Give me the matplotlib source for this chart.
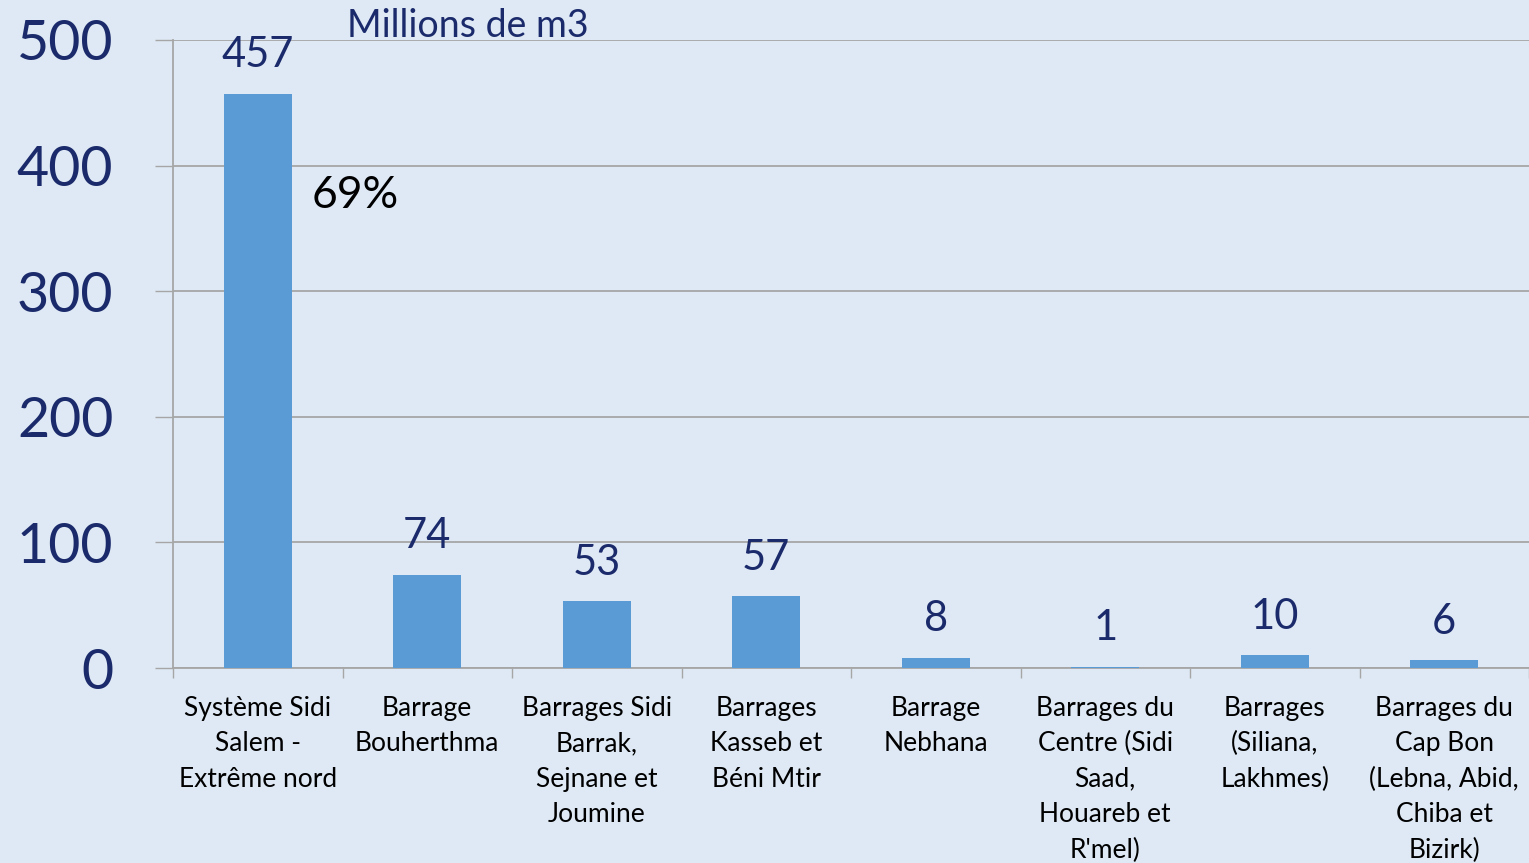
import numpy as np
import matplotlib.pyplot as plt
from matplotlib.ticker import FixedLocator

# data
categories = [
    "Système Sidi\nSalem -\nExtrême nord",
    "Barrage\nBouherthma",
    "Barrages Sidi\nBarrak,\nSejnane et\nJoumine",
    "Barrages\nKasseb et\nBéni Mtir",
    "Barrage\nNebhana",
    "Barrages du\nCentre (Sidi\nSaad,\nHouareb et\nR'mel)",
    "Barrages\n(Siliana,\nLakhmes)",
    "Barrages du\nCap Bon\n(Lebna, Abid,\nChiba et\nBizirk)",
]
volumes = [457, 74, 53, 57, 8, 1, 10, 6]
y_ticks = [0, 100, 200, 300, 400, 500]

bg = "#DEE9F5"
bar_color = "#5B9BD5"
navy = "#1B2A6B"
grid_gray = "#A6A6A6"

plt.rcParams['font.family'] = ['Lato', 'DejaVu Sans']

fig = plt.figure(figsize=(15.29, 8.63), dpi=100, facecolor=bg)
ax = fig.add_axes([173 / 1529, 1 - 668 / 863, 1 - 173 / 1529, (668 - 40) / 863])
ax.set_facecolor(bg)

x = np.arange(len(categories))
ax.bar(x, volumes, width=0.4, color=bar_color, zorder=3)

for xi, v in zip(x, volumes):
    ax.annotate(str(v), (xi, v), xytext=(0, 28), textcoords="offset points",
                ha="center", va="center", fontsize=30, color=navy)

ax.set_xlim(-0.5, len(categories) - 0.5)
ax.set_ylim(0, 500)

ax.set_yticks(y_ticks)
ax.set_yticklabels([str(t) for t in y_ticks], fontsize=40, color=navy)
ax.yaxis.grid(True, color=grid_gray, linewidth=1.3, zorder=0)
ax.tick_params(axis="y", length=13, width=1.0, color=grid_gray, pad=30)

ax.set_xticks(x)
ax.set_xticklabels(categories, fontsize=19, color="black", linespacing=1.52, va="top")
ax.xaxis.set_minor_locator(FixedLocator(np.arange(-0.5, len(categories), 1.0)))
ax.tick_params(axis="x", which="major", length=0, pad=20)
ax.tick_params(axis="x", which="minor", length=7, width=1.0, color=grid_gray)

for s in ["top", "right"]:
    ax.spines[s].set_visible(False)
for s in ["left", "bottom"]:
    ax.spines[s].set_color(grid_gray)
    ax.spines[s].set_linewidth(1.3)

ax.text(0.32, 376, "69%", fontsize=32, color="black", va="center", ha="left")
fig.text(347 / 1529, 1 - 26 / 863, "Millions de m3", fontsize=27, color=navy,
         ha="left", va="center")

fig.savefig("out.png", dpi=100, facecolor=bg)
